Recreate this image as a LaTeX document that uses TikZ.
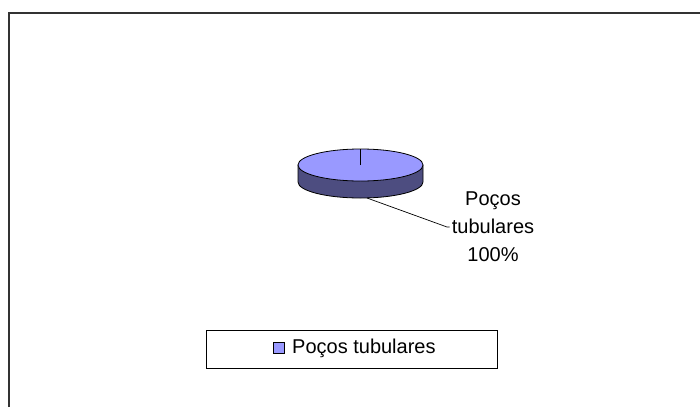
\documentclass[tikz,border=0pt]{standalone}
\usepackage{fontspec}
\setmainfont{Liberation Sans}
\usepackage{tikz}
\usetikzlibrary{calc}
\definecolor{pietop}{HTML}{9999FF}
\definecolor{pieside}{RGB}{77,77,128}
\definecolor{framegray}{HTML}{333333}
\tikzset{
  chartfont/.style={font=\fontsize{20}{28}\selectfont},
  swatch/.style={draw=black, fill=pietop, minimum size=11pt, inner sep=0pt},
}

\begin{document}
\begin{tikzpicture}[x=1pt,y=-1pt]
        \useasboundingbox (0,0) rectangle (700,407);

        %FRAME
        \draw[framegray, line width=2pt] (8.5,407) -- (8.5,13) -- (700,13);

        %PIE
        \coordinate (c) at (360.5,165);
        \filldraw[draw=black, fill=pieside, line width=0.8pt] ($(c)+(-62.5,0)$) -- ++(0,17)
            arc[start angle=180, end angle=0, x radius=62.5, y radius=16] -- ++(0,-17) -- cycle;
        \filldraw[draw=black, fill=pietop, line width=0.8pt] (c) ellipse[x radius=62.5, y radius=16];
        \coordinate (top) at (360.5,149);
        \draw[line width=1.2pt] (c) -- (top);

        %LABEL
        \node[chartfont, align=center, inner sep=2pt] (lbl) at (493,227) {Poços\\tubulares\\100\%};
        \coordinate (pt) at (367,198);
        \coordinate (bend) at (447,227);
        \draw[line width=0.7pt] (pt) -- (bend) -- (lbl.west);

        %LEGEND
        \node[draw=black, line width=1pt, minimum width=291pt, minimum height=38pt] (legend) at (351.5,349) {};
        \node[swatch] (sw) at (278.5,347.5) {};
        \node[chartfont, anchor=west, inner sep=0pt] (legtext) at (292,348) {Poços tubulares};
    \end{tikzpicture}
\end{document}
